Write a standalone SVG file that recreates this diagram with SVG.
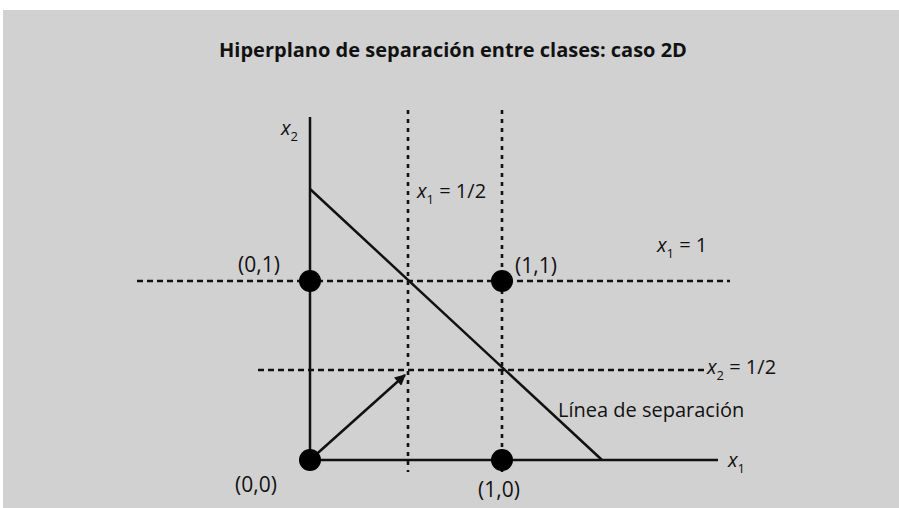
<svg xmlns="http://www.w3.org/2000/svg" width="899" height="508" viewBox="0 0 899 508">
<style>
.t{font-family:"Open Sans","Liberation Sans",sans-serif;font-size:20px;fill:#111}
.c{font-size:21px}
.i{font-style:italic}
.n{font-style:normal}
.s{font-size:13px;font-style:normal}
.dh{stroke:#111;stroke-width:2.4;stroke-dasharray:6 4;fill:none}
.dv{stroke:#111;stroke-width:2.6;stroke-dasharray:4 5;fill:none}
.solid{stroke:#111;stroke-width:2.5;fill:none}
.pt{fill:#000}
</style>
<defs>
<marker id="ah" viewBox="0 0 10 10" refX="9" refY="5" markerWidth="13" markerHeight="11" orient="auto" markerUnits="userSpaceOnUse">
<path d="M0,0 L10,5 L0,10 z" fill="#111"/>
</marker>
</defs>
<rect x="3" y="10" width="896" height="498" fill="#d1d1d1"/>
<text x="453" y="57" text-anchor="middle" class="t" style="font-weight:bold">Hiperplano de separación entre clases: caso 2D</text>
<g id="connectors">
<line class="dv" x1="408" y1="110" x2="408" y2="472"/>
<line class="dv" x1="502" y1="110" x2="502" y2="472"/>
<line class="dh" x1="137" y1="281" x2="730" y2="281"/>
<line class="dh" x1="258" y1="370" x2="705" y2="370"/>
<line class="solid" x1="310" y1="117" x2="310" y2="460"/>
<line class="solid" x1="310" y1="460" x2="718" y2="460"/>
<line class="solid" x1="310" y1="189" x2="602" y2="460"/>
<line class="solid" x1="310" y1="460" x2="405" y2="375" marker-end="url(#ah)"/>
</g>
<g id="p00"><circle class="pt" cx="310" cy="460" r="11"/><text class="t c" x="235" y="492">(0,0)</text></g>
<g id="p10"><circle class="pt" cx="502" cy="460" r="11"/><text class="t c" x="478" y="497">(1,0)</text></g>
<g id="p01"><circle class="pt" cx="310" cy="281" r="11"/><text class="t c" x="238" y="272">(0,1)</text></g>
<g id="p11"><circle class="pt" cx="502" cy="281" r="11"/><text class="t c" x="515" y="273">(1,1)</text></g>
<g id="labels">
<text class="t i" x="281" y="135">x<tspan class="s" dy="6">2</tspan></text>
<text class="t i" x="417" y="198">x<tspan class="s" dy="6">1</tspan><tspan class="n" dy="-6"> = 1/2</tspan></text>
<text class="t i" x="657" y="252">x<tspan class="s" dy="6">1</tspan><tspan class="n" dy="-6"> = 1</tspan></text>
<text class="t i" x="707" y="374">x<tspan class="s" dy="6">2</tspan><tspan class="n" dy="-6"> = 1/2</tspan></text>
<text class="t" x="558" y="417">Línea de separación</text>
<text class="t i" x="728" y="467">x<tspan class="s" dy="6">1</tspan></text>
</g>
</svg>
